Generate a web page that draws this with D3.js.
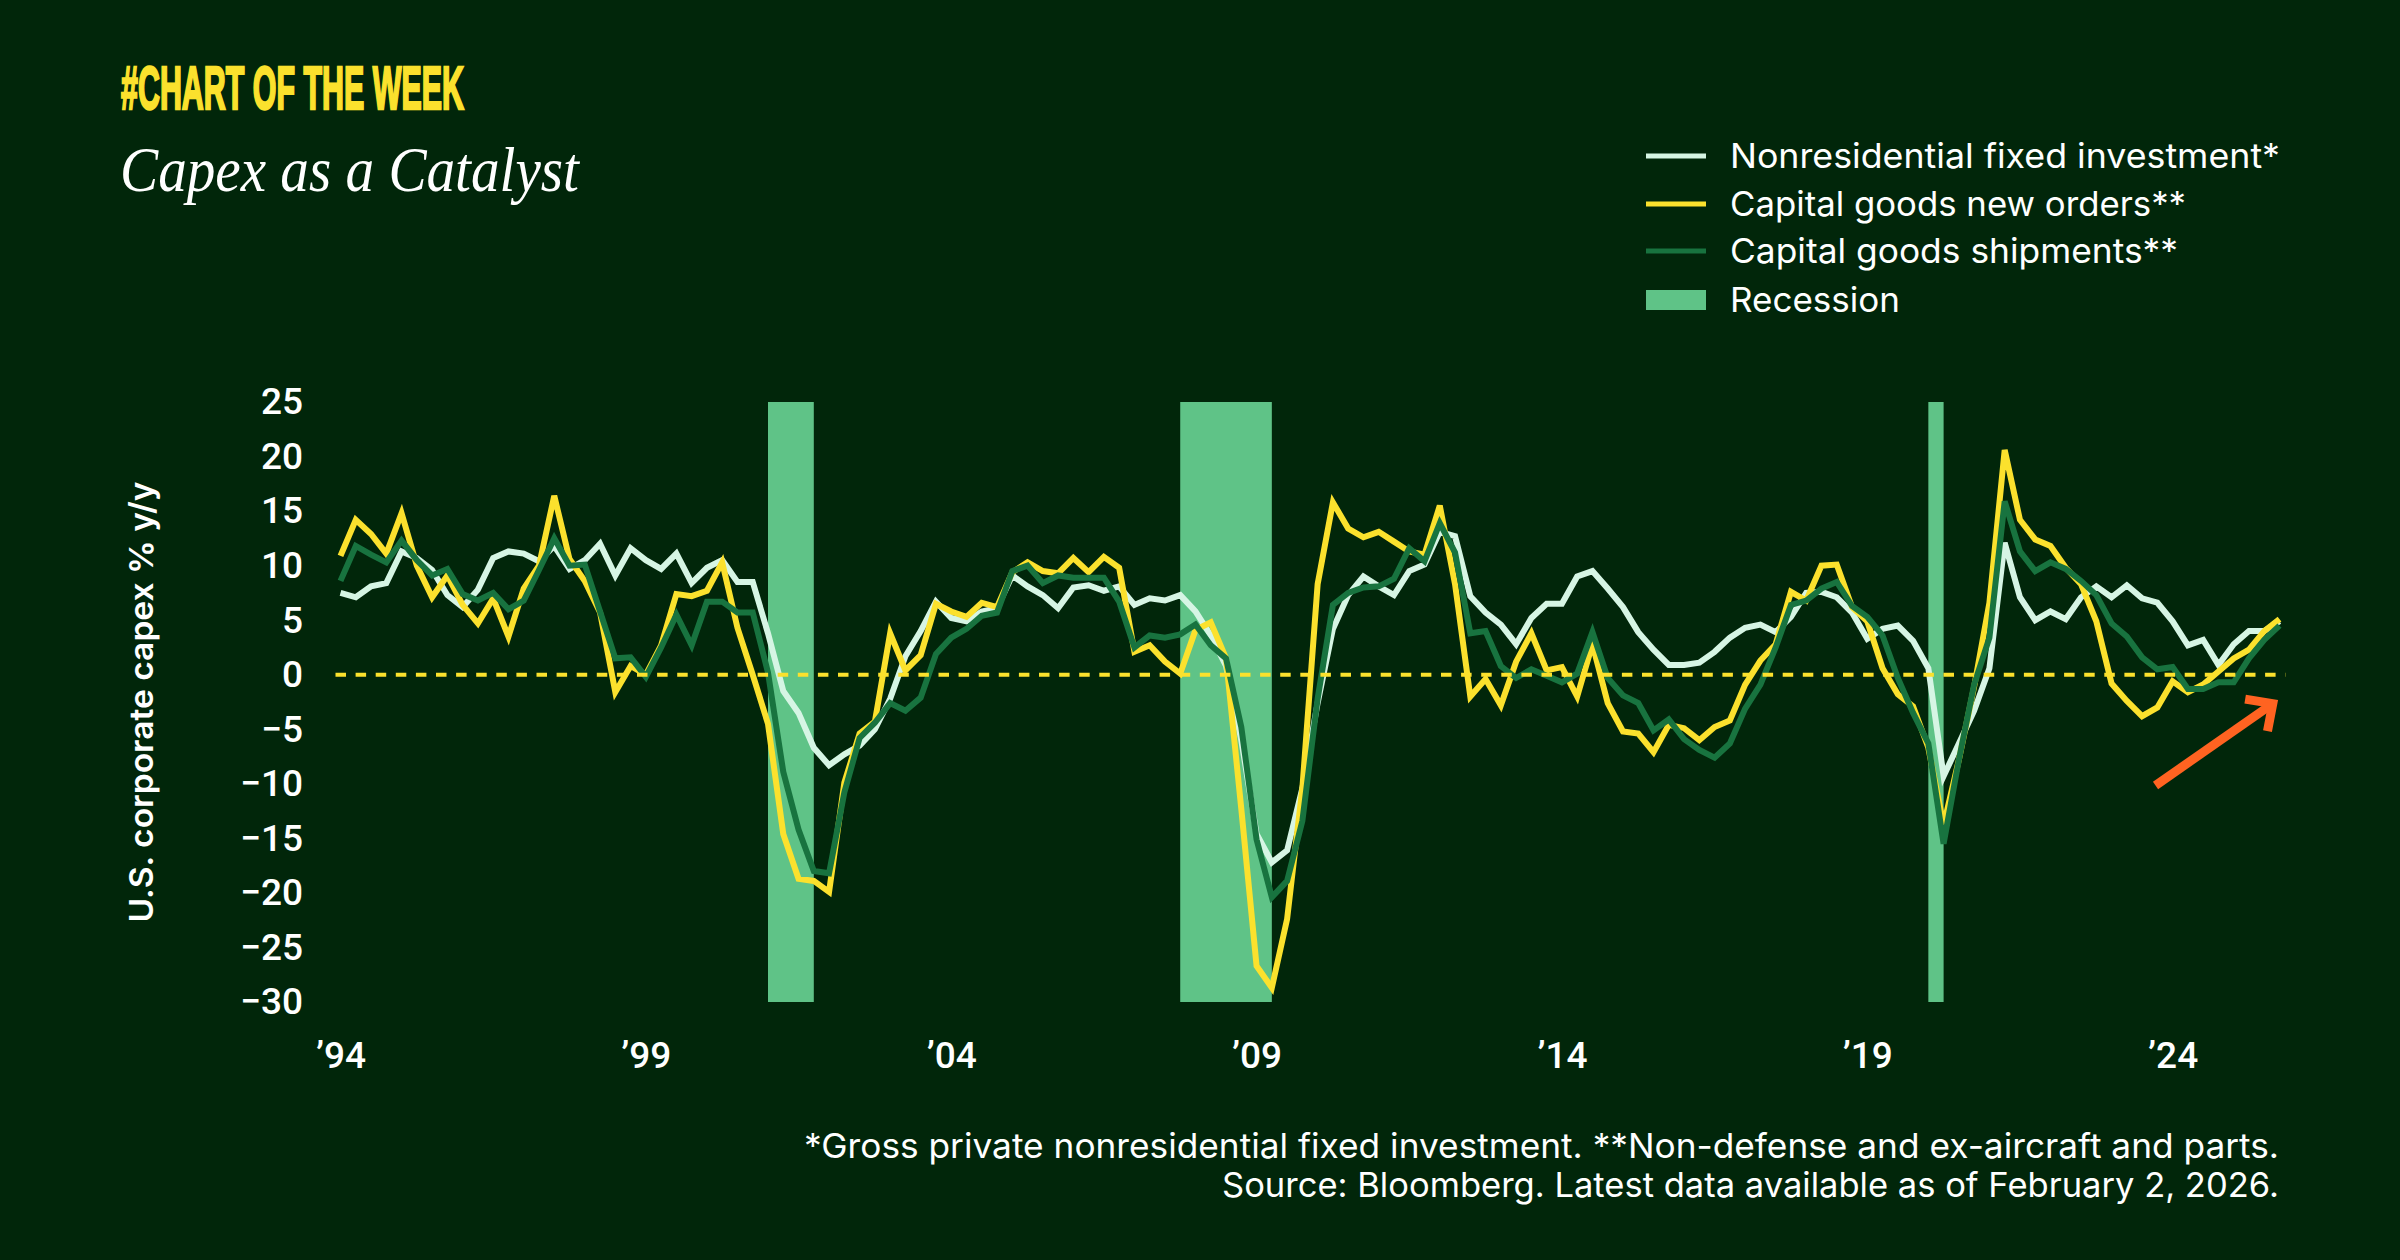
<!DOCTYPE html>
<html>
<head>
<meta charset="utf-8">
<script src="https://cdn.jsdelivr.net/npm/d3@7"></script>
<style>
  html, body { margin: 0; padding: 0; background: #01260a; }
  svg { display: block; }
  text { font-family: Inter, Roboto, sans-serif; fill: #fff; }
</style>
</head>
<body>
<svg id="chart" width="2400" height="1260"></svg>
<script>
// Quarterly y/y values, 1994 Q1 to 2025 Q4
const nonresidential = [
  7.5,7.1,8.1,8.4,11.3,10.7,9.6,7.3,6.2,7.8,10.7,11.3,11.1,10.4,11.8,9.7,10.5,12,9.1,11.6,10.5,9.7,
  11.1,8.4,9.8,10.5,8.5,8.5,3.8,-1.5,-3.5,-6.7,-8.3,-7.3,-6.5,-5,-2.2,1.7,4,6.7,5.2,4.9,5.8,6.1,
  9.1,8.1,7.3,6.1,8,8.2,7.7,8.1,6.4,7,6.8,7.3,5.8,3.6,.8,-6,-14.6,-17.2,-16.1,-10.4,-2.6,4.2,7.3,
  9,8.1,7.3,9.5,10.1,13.1,12.7,7.2,5.7,4.6,2.8,5.2,6.5,6.5,9,9.5,7.9,6.2,3.9,2.3,.9,.9,1.1,
  2.1,3.4,4.3,4.6,3.9,5.3,7.5,7.6,7.1,5.7,3.3,4.2,4.5,3.1,.6,-9.3,-6.3,-3.3,.6,12.1,7.1,5,5.8,5.1,
  7.1,8.1,7.1,8.2,7,6.6,4.9,2.7,3.2,.9,2.8,4,4,4.9
];
const newOrders = [
  10.9,14.2,12.9,11.1,14.8,10,7.1,9.1,6.4,4.7,7,3.5,7.9,10,16.4,10.6,8.6,5.7,-1.6,.8,0,2.7,
  7.4,7.2,7.7,10.3,4.3,0,-4.5,-14.6,-18.7,-18.9,-19.9,-9.9,-5.4,-4.3,3.8,.4,1.8,6.5,5.8,5.3,6.6,6.2,
  9.4,10.3,9.5,9.3,10.7,9.4,10.8,9.8,2.1,2.7,1.2,.1,4.1,4.8,1.5,-12.3,-26.7,-28.7,-22.4,-10.4,8.3,15.8,13.4,
  12.6,13.1,12.2,11.3,11,15.5,8.3,-2,-.4,-2.8,1.2,3.8,.4,.7,-2,2.8,-2.6,-5.2,-5.4,-7.1,-4.6,-4.9,-6,
  -4.8,-4.2,-.9,1.3,2.8,7.6,6.8,10,10.1,6.2,4.9,.6,-1.8,-2.9,-6.7,-13.8,-7.8,-1.1,6.6,20.6,14.2,12.4,11.8,9.8,
  8.3,4.9,-.8,-2.4,-3.8,-3,-.6,-1.6,-.9,.3,1.5,2.3,4,5.1
];
const shipments = [
  8.6,11.8,11,10.3,12.3,10.5,9.1,9.7,7.4,6.8,7.5,6,6.8,9.6,12.5,10,10.1,5.8,1.5,1.6,-.2,2.5,
  5.5,2.7,6.7,6.7,5.7,5.7,.2,-8.9,-14.2,-18,-18.2,-10.8,-5.8,-4.4,-2.6,-3.3,-2.1,1.9,3.4,4.2,5.4,5.7,
  9.5,10,8.4,9.1,8.9,8.9,8.9,6.7,2.5,3.6,3.4,3.7,4.6,2.7,1.5,-4.8,-15.1,-20.4,-18.9,-13.4,-2.2,6.4,7.5,
  8,8.1,8.8,11.6,10.4,13.9,11.2,3.8,4,.8,-.3,.5,-.1,-.7,.1,3.9,-.3,-1.9,-2.6,-5.1,-4.1,-5.9,-6.9,
  -7.6,-6.3,-3.1,-.9,2.5,6.4,6.8,7.9,8.5,6.3,5.3,3.6,-.3,-3.5,-6.3,-15.5,-7.8,-.9,3.4,15.9,11.3,9.5,10.3,9.7,
  8.6,7.3,4.7,3.5,1.6,.5,.7,-1.3,-1.3,-.7,-.7,1.5,3.2,4.5
];
const recessionStart = [2001, 2007.75, 2020];
const recessionEnd = [2001.75, 2009.25, 2020.25];
const yTicks = [25, 20, 15, 10, 5, 0, -5, -10, -15, -20, -25, -30];
const xTicks = [1994, 1999, 2004, 2009, 2014, 2019, 2024];
const legendLabels = ["Nonresidential fixed investment*", "Capital goods new orders**", "Capital goods shipments**", "Recession"];
const footnotes = [
  "*Gross private nonresidential fixed investment. **Non-defense and ex-aircraft and parts.",
  "Source: Bloomberg. Latest data available as of February 2, 2026."
];

const WHITE = "#d6f5e4", YELLOW = "#fbe12d", GREEN = "#18733f", RECESSION = "#5fc387", ORANGE = "#ff6321";

const svg = d3.select("#chart");
const x = d3.scaleLinear().domain([1994, 2025.75]).range([340.5, 2279.5]);
const y = d3.scaleLinear().domain([-30, 25]).range([1002, 402]);

// Recession bands
svg.selectAll(".recession")
  .data(recessionStart)
  .join("rect")
  .attr("class", "recession")
  .attr("x", d => x(d))
  .attr("width", (d, i) => x(recessionEnd[i]) - x(d))
  .attr("y", y(25))
  .attr("height", y(-30) - y(25))
  .attr("fill", RECESSION);

// Axes
const yAxis = d3.axisLeft(y).tickValues(yTicks).tickSize(0).tickPadding(0)
  .tickFormat(d => String(d).replace("-", "\u2212"));
const xAxis = d3.axisBottom(x).tickValues(xTicks).tickSize(0).tickPadding(0)
  .tickFormat(d => "\u2019" + String(d).slice(2));

const gy = svg.append("g").attr("transform", "translate(303,0)").call(yAxis);
const gx = svg.append("g").attr("transform", "translate(0,1068)").call(xAxis);
gy.select(".domain").remove();
gx.select(".domain").remove();
gy.selectAll("text").attr("font-size", 37).attr("fill", "#fff")
  .style("font-family", "Roboto").style("font-weight", 500).attr("dy", "0.32em");
gx.selectAll("text").attr("font-size", 37).attr("fill", "#fff")
  .style("font-family", "Roboto").style("font-weight", 500).attr("y", 0).attr("dy", 0);

// Series
const line = d3.line().x((d, i) => x(1994 + i / 4)).y(d => y(d));
[[nonresidential, WHITE], [newOrders, YELLOW], [shipments, GREEN]].forEach(s => {
  svg.append("path")
    .attr("d", line(s[0]))
    .attr("fill", "none")
    .attr("stroke", s[1])
    .attr("stroke-width", 6)
    .attr("stroke-linejoin", "miter");
});

// Zero line
svg.append("line")
  .attr("x1", x(1994) - 5).attr("x2", x(2025.75) + 6)
  .attr("y1", y(0)).attr("y2", y(0))
  .attr("stroke", YELLOW)
  .attr("stroke-width", 4)
  .attr("stroke-dasharray", "10.5 9.6");

// Arrow annotation, given in data units
const arrowFrom = [2023.72, -10.15], arrowTo = [2025.64, -2.65];
const ax0 = x(arrowFrom[0]), ay0 = y(arrowFrom[1]), ax1 = x(arrowTo[0]), ay1 = y(arrowTo[1]);
const ang = Math.atan2(ay1 - ay0, ax1 - ax0);
const head = 28;
svg.append("path")
  .attr("d", d3.line()([
    [ax1 + head * Math.cos(ang + 2.37), ay1 + head * Math.sin(ang + 2.37)],
    [ax1, ay1],
    [ax1 + head * Math.cos(ang - 2.37), ay1 + head * Math.sin(ang - 2.37)]
  ]))
  .attr("fill", "none").attr("stroke", ORANGE).attr("stroke-width", 9);
svg.append("line")
  .attr("x1", ax0).attr("y1", ay0).attr("x2", ax1).attr("y2", ay1)
  .attr("stroke", ORANGE).attr("stroke-width", 9);

// Titles
svg.append("text")
  .attr("x", 121).attr("y", 109)
  .attr("textLength", 343).attr("lengthAdjust", "spacingAndGlyphs")
  .attr("font-size", 62)
  .style("font-family", "'Liberation Sans'").style("font-weight", 700)
  .style("fill", YELLOW).style("stroke", YELLOW).style("stroke-width", 2.5)
  .text("#CHART OF THE WEEK");
svg.append("text")
  .attr("x", 120).attr("y", 191)
  .attr("textLength", 459).attr("lengthAdjust", "spacingAndGlyphs")
  .attr("font-size", 64)
  .style("font-family", "'Liberation Serif'").style("font-style", "italic")
  .text("Capex as a Catalyst");

// Legend
const legendY = [156, 204, 251, 300];
const legendWidth = [550, 456, 448, 170];
const legendColor = [WHITE, YELLOW, GREEN];
legendLabels.forEach((label, i) => {
  if (i < 3) {
    svg.append("line")
      .attr("x1", 1646).attr("x2", 1706)
      .attr("y1", legendY[i]).attr("y2", legendY[i])
      .attr("stroke", legendColor[i]).attr("stroke-width", 5);
  } else {
    svg.append("rect")
      .attr("x", 1646).attr("width", 60)
      .attr("y", legendY[i] - 10).attr("height", 20)
      .attr("fill", RECESSION);
  }
  svg.append("text")
    .attr("x", 1730).attr("y", legendY[i] + 12)
    .attr("textLength", legendWidth[i]).attr("lengthAdjust", "spacingAndGlyphs")
    .attr("font-size", 34)
    .text(label);
});

// Y axis title
svg.append("text")
  .attr("transform", "translate(153,702) rotate(-90)")
  .attr("text-anchor", "middle")
  .attr("textLength", 441).attr("lengthAdjust", "spacingAndGlyphs")
  .attr("font-size", 33).style("font-weight", 600)
  .text("U.S. corporate capex % y/y");

// Footnotes
const footWidth = [1475, 1057];
footnotes.forEach((t, i) => {
  svg.append("text")
    .attr("x", 2279 - footWidth[i]).attr("y", 1158 + i * 39)
    .attr("textLength", footWidth[i]).attr("lengthAdjust", "spacingAndGlyphs")
    .attr("font-size", 34)
    .text(t);
});
</script>
</body>
</html>
